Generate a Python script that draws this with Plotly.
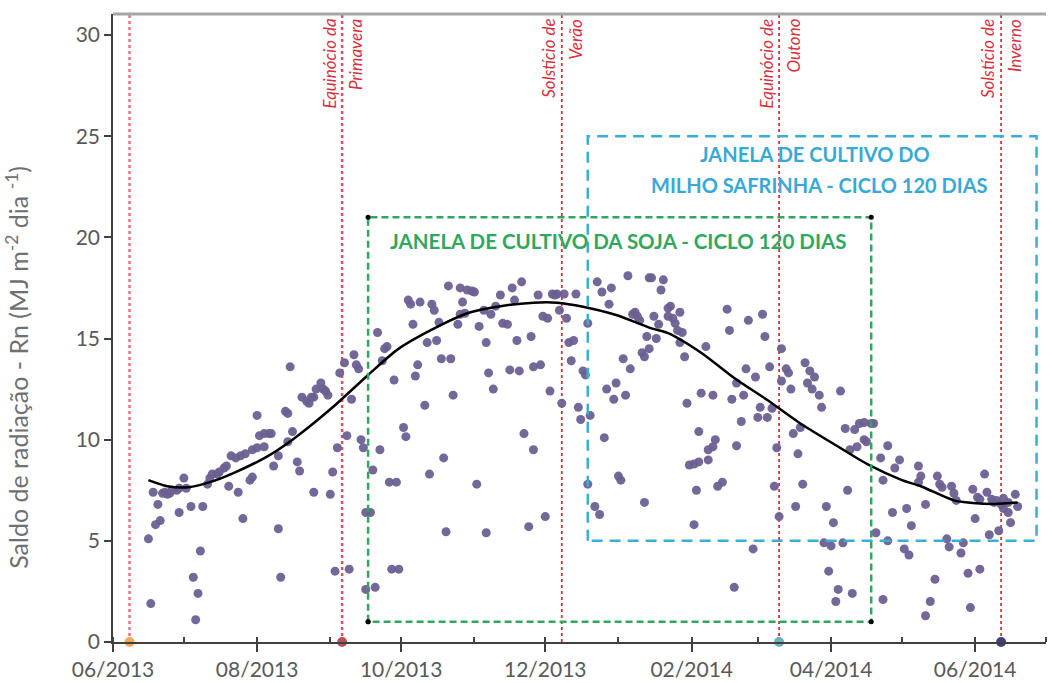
import pandas as pd
import plotly.graph_objects as go

START = pd.Timestamp("2013-06-01")

# Daily net radiation Rn (MJ m-2 dia-1); day count from 01/06/2013
obs_day = [15, 16, 17, 18, 19, 20, 21, 22, 23, 24, 25, 27, 28, 28, 30, 31, 33, 34, 35, 36,
           37, 38, 40, 41, 42, 44, 45, 47, 48, 49, 50, 52, 53, 54, 55, 56, 58, 59, 59, 61,
           61, 62, 64, 64, 66, 67, 68, 70, 70, 71, 73, 74, 74, 75, 76, 78, 79, 80, 82, 83,
           84, 85, 85, 86, 88, 89, 90, 91, 92, 93, 94, 95, 96, 98, 99, 100, 101, 102, 103, 104,
           105, 106, 107, 107, 109, 110, 111, 112, 113, 114, 115, 116, 117, 118, 119, 120, 121, 123, 124, 125,
           126, 127, 128, 129, 130, 132, 133, 134, 135, 136, 137, 138, 139, 140, 141, 142, 143, 144, 146, 147,
           147, 148, 149, 150, 152, 153, 154, 155, 157, 158, 158, 159, 160, 161, 162, 164, 165, 167, 168, 169,
           170, 171, 172, 173, 174, 176, 177, 178, 178, 180, 181, 182, 183, 184, 185, 186, 187, 188, 189, 190,
           191, 192, 193, 194, 195, 196, 197, 198, 199, 200, 201, 201, 202, 204, 205, 206, 207, 208, 209, 210,
           211, 212, 213, 214, 215, 216, 217, 218, 219, 220, 221, 222, 223, 224, 225, 225, 226, 227, 227, 228,
           229, 230, 231, 232, 233, 235, 235, 236, 237, 238, 239, 240, 240, 241, 242, 243, 244, 246, 246, 247,
           248, 248, 249, 251, 252, 252, 254, 254, 255, 256, 258, 260, 261, 262, 263, 264, 264, 266, 267, 268,
           269, 271, 272, 273, 274, 275, 276, 277, 278, 279, 280, 281, 282, 283, 283, 285, 286, 287, 288, 289,
           290, 291, 292, 293, 294, 295, 296, 297, 299, 300, 301, 302, 303, 304, 305, 306, 307, 308, 309, 310,
           311, 312, 313, 314, 315, 316, 318, 318, 319, 321, 322, 323, 325, 326, 326, 328, 328, 330, 331, 333,
           335, 336, 337, 338, 341, 341, 342, 344, 344, 346, 348, 349, 350, 351, 353, 354, 355, 356, 357, 359,
           360, 362, 363, 364, 365, 366, 367, 367, 369, 370, 371, 372, 373, 374, 375, 376, 377, 377, 379, 379,
           380, 382, 383]
obs_rn = [5.1, 1.9, 7.4, 5.8, 6.8, 6.0, 7.35, 7.4, 7.3, 7.35, 7.5, 7.5, 7.6, 6.4, 8.1, 7.6, 6.7, 3.2, 1.1, 2.4,
          4.5, 6.7, 7.8, 8.1, 8.3, 8.3, 8.4, 8.6, 8.7, 7.7, 9.2, 9.1, 7.4, 9.2, 6.1, 9.3, 8.0, 8.15, 9.5, 9.6,
          11.2, 10.2, 10.3, 9.65, 10.3, 10.3, 8.7, 9.2, 5.6, 3.2, 11.4, 11.3, 9.9, 13.6, 10.4, 8.9, 8.45, 12.1, 11.9, 11.8,
          12.1, 12.1, 7.4, 12.5, 12.8, 12.5, 12.4, 12.2, 7.3, 8.4, 3.5, 9.6, 13.3, 13.8, 10.2, 3.6, 12.0, 14.2, 13.7, 13.5,
          10.0, 9.6, 6.4, 2.6, 6.4, 8.5, 2.7, 15.3, 9.5, 13.9, 14.5, 14.6, 7.9, 3.6, 12.95, 7.9, 3.6, 10.6, 10.15, 16.9,
          16.7, 15.7, 13.15, 13.7, 16.8, 11.7, 14.8, 8.3, 16.7, 16.4, 14.9, 15.8, 14.0, 9.1, 5.45, 17.6, 14.0, 12.2, 15.7, 17.5,
          16.2, 16.8, 16.25, 17.4, 17.35, 17.3, 7.8, 15.6, 16.4, 14.8, 5.4, 13.3, 16.2, 12.5, 16.6, 17.15, 15.75, 15.7, 13.45, 17.5,
          16.9, 14.9, 13.4, 17.8, 10.3, 5.7, 15.1, 13.6, 9.5, 17.15, 13.7, 16.1, 6.2, 16.0, 12.4, 17.2, 17.15, 17.2, 16.4, 11.8,
          17.2, 16.0, 14.8, 13.9, 14.9, 17.2, 11.6, 11.0, 13.4, 13.2, 15.75, 7.8, 11.2, 6.7, 17.8, 6.3, 17.3, 10.1, 12.5, 16.7,
          17.5, 12.0, 12.8, 8.2, 8.0, 14.0, 12.2, 18.1, 13.5, 16.2, 16.3, 16.1, 15.9, 14.3, 14.1, 6.9, 15.1, 18.0, 14.5, 18.0,
          16.1, 15.0, 15.7, 17.4, 17.9, 16.5, 16.1, 16.6, 16.0, 15.75, 15.4, 16.3, 14.8, 15.3, 14.1, 11.8, 8.75, 5.8, 8.8, 7.5,
          8.9, 10.4, 12.3, 14.6, 9.0, 9.5, 12.2, 9.65, 10.0, 7.7, 7.9, 16.45, 15.4, 12.0, 2.7, 9.7, 12.8, 10.9, 12.2, 13.5,
          15.9, 4.6, 13.1, 11.1, 11.6, 16.2, 15.1, 11.1, 13.6, 11.55, 7.7, 9.6, 6.2, 14.5, 12.9, 13.5, 13.3, 12.5, 10.3, 6.7,
          9.3, 10.6, 7.8, 13.8, 12.8, 13.4, 12.5, 13.1, 12.2, 11.6, 4.9, 6.7, 3.5, 4.75, 5.9, 2.0, 2.6, 12.4, 4.9, 10.55,
          7.5, 9.5, 2.4, 10.5, 9.65, 10.8, 10.0, 10.85, 9.9, 10.8, 10.8, 5.4, 9.1, 8.0, 2.1, 9.7, 5.0, 6.4, 8.6, 9.0,
          4.6, 6.6, 4.3, 5.75, 8.7, 7.9, 8.2, 6.8, 1.3, 2.0, 3.1, 8.2, 7.8, 7.65, 5.1, 4.7, 7.7, 7.35, 7.0, 4.4,
          4.9, 3.4, 1.7, 7.55, 6.1, 7.15, 7.05, 3.6, 8.3, 7.4, 5.3, 7.05, 6.9, 7.0, 5.5, 6.8, 7.1, 6.6, 6.9, 6.4,
          5.9, 7.3, 6.7]

# Fitted seasonal trend
fit_day = [15, 23, 32, 41, 51, 65, 76, 93, 108, 121, 136, 150, 164, 178, 188, 199,
           213, 228, 235, 249, 263, 277, 291, 305, 320, 334, 342, 356, 364, 373, 383]
fit_rn = [8.0, 7.7, 7.65, 7.9, 8.35, 9.15, 10.0, 11.6, 13.2, 14.5, 15.5, 16.25, 16.6, 16.77, 16.77, 16.57,
          16.16, 15.5, 15.27, 14.3, 13.05, 11.96, 10.8, 9.8, 8.75, 8.0, 7.7, 7.0, 6.87, 6.82, 6.89]

# Astronomical events (day count) and their labels
event_day = [7, 97, 190, 282, 376]
event_left = ["", "Equinócio da", "Solstício de", "Equinócio de", "Solstício de"]
event_right = ["", "Primavera", "Verão", "Outono", "Inverno"]
# Events that carry a point marker on the time axis
marked_day = [7, 97, 282, 376]

# Crop windows: (first day, last day) and Rn extent of the frame
soja_days = [108, 321]
soja_rn = [1, 21]
milho_days = [201, 391]
milho_rn = [5, 25]

soja_label = "JANELA DE CULTIVO DA SOJA - CICLO 120 DIAS"
milho_label = ["JANELA DE CULTIVO DO", "MILHO SAFRINHA - CICLO 120 DIAS"]


def to_date(days):
    return START + pd.to_timedelta(pd.Series(days, dtype=float), unit="D")


FONT = "Lato"
GREY = "#595959"
RED = "#d8303f"

obs_x = to_date(obs_day)
fit_x = to_date(fit_day)
ev_x = to_date(event_day)
mk_x = to_date(marked_day)
s0, s1 = to_date(soja_days)
m0, m1 = to_date(milho_days)

fig = go.Figure()

fig.add_trace(go.Scatter(
    x=obs_x, y=obs_rn, mode="markers",
    marker=dict(size=9, color="#6b6091", opacity=0.95, line=dict(width=0)),
    hoverinfo="skip", showlegend=False))

fig.add_trace(go.Scatter(
    x=fit_x, y=fit_rn, mode="lines",
    line=dict(color="black", width=2.5, shape="spline", smoothing=0.8),
    showlegend=False))

# Soybean window frame
fig.add_trace(go.Scatter(
    x=[s0, s0, s1, s1, s0], y=[soja_rn[0], soja_rn[1], soja_rn[1], soja_rn[0], soja_rn[0]],
    mode="lines+markers",
    line=dict(color="#2fa85e", width=2.5, dash="7px,4px"),
    marker=dict(size=5, color="black"),
    showlegend=False))

# Second-crop maize window frame
fig.add_trace(go.Scatter(
    x=[m0, m0, m1, m1, m0], y=[milho_rn[0], milho_rn[1], milho_rn[1], milho_rn[0], milho_rn[0]],
    mode="lines",
    line=dict(color="#3aaed6", width=2.5, dash="11px,7px"),
    showlegend=False))

# Event markers on the time axis
fig.add_trace(go.Scatter(
    x=mk_x, y=[0] * len(marked_day), mode="markers",
    marker=dict(size=10, color=["#f3a862", "#b9505a", "#6cb2ba", "#3f407c"]),
    cliponaxis=False, showlegend=False))

shapes = []
line_styles = [("#ef6f80", "dot", 2.5), ("#d9535f", "dot", 2.5),
               (RED, "3px,3px", 1.8), (RED, "3px,3px", 1.8), (RED, "3px,3px", 1.8)]
for d, (col, dash, w) in zip(ev_x, line_styles):
    shapes.append(dict(type="line", xref="x", yref="paper", x0=d, x1=d, y0=0, y1=1,
                       line=dict(color=col, width=w, dash=dash), layer="below"))
shapes.append(dict(type="line", xref="paper", yref="paper", x0=0, x1=1, y0=1, y1=1,
                   line=dict(color="#a6a6a6", width=3)))

annotations = []
for d, lt, rt in zip(ev_x, event_left, event_right):
    if lt:
        annotations.append(dict(x=d, y=1, xref="x", yref="paper", text=f"<i>{lt}</i>",
                                textangle=-90, xanchor="right", yanchor="top", yshift=-3,
                                xshift=-1, showarrow=False,
                                font=dict(family=FONT, size=17, color=RED)))
    if rt:
        annotations.append(dict(x=d, y=1, xref="x", yref="paper", text=f"<i>{rt}</i>",
                                textangle=-90, xanchor="left", yanchor="top", yshift=-3,
                                xshift=1, showarrow=False,
                                font=dict(family=FONT, size=17, color=RED)))

annotations.append(dict(x=to_date([214])[0], y=19.8, xref="x", yref="y", text=f"<b>{soja_label}</b>",
                        showarrow=False, font=dict(family=FONT, size=20.5, color="#2fa85e")))
annotations.append(dict(x=to_date([297])[0], y=24.1, xref="x", yref="y", text=f"<b>{milho_label[0]}</b>",
                        showarrow=False, font=dict(family=FONT, size=20, color="#38a9d6")))
annotations.append(dict(x=to_date([299])[0], y=22.6, xref="x", yref="y", text=f"<b>{milho_label[1]}</b>",
                        showarrow=False, font=dict(family=FONT, size=20, color="#38a9d6")))

annotations.append(dict(x=-0.102, y=0.438, xref="paper", yref="paper",
                        xanchor="center", yanchor="middle",
                        text="Saldo de radiação - Rn (MJ m<sup>-2</sup> dia <sup>-1</sup>)",
                        textangle=-90, showarrow=False,
                        font=dict(family=FONT, size=25, color="#707070")))

fig.update_layout(
    width=1054, height=683,
    margin=dict(l=113, r=8, t=14, b=41),
    paper_bgcolor="white", plot_bgcolor="white",
    shapes=shapes, annotations=annotations,
    font=dict(family=FONT, color=GREY),
    xaxis=dict(
        type="date", range=[START, START + pd.Timedelta(days=395)],
        tick0="2013-06-01", dtick="M2", tickformat="%m/%Y",
        ticks="outside", ticklen=8, tickwidth=1.5, tickcolor="#404040",
        showline=True, linecolor="#404040", linewidth=1.5,
        showgrid=False, zeroline=False, automargin=False,
        minor=dict(dtick="M1", ticks="inside", ticklen=5, tickcolor="#404040", showgrid=False),
        tickfont=dict(family=FONT, size=21, color=GREY),
    ),
    yaxis=dict(
        range=[0, 31.04], tick0=0, dtick=5,
        ticks="outside", ticklen=7, tickwidth=1.5, tickcolor="#404040",
        showline=True, linecolor="#404040", linewidth=1.5,
        showgrid=False, zeroline=False, automargin=False,
        tickfont=dict(family=FONT, size=21, color=GREY),
    ),
)

fig.write_html("out.html")
